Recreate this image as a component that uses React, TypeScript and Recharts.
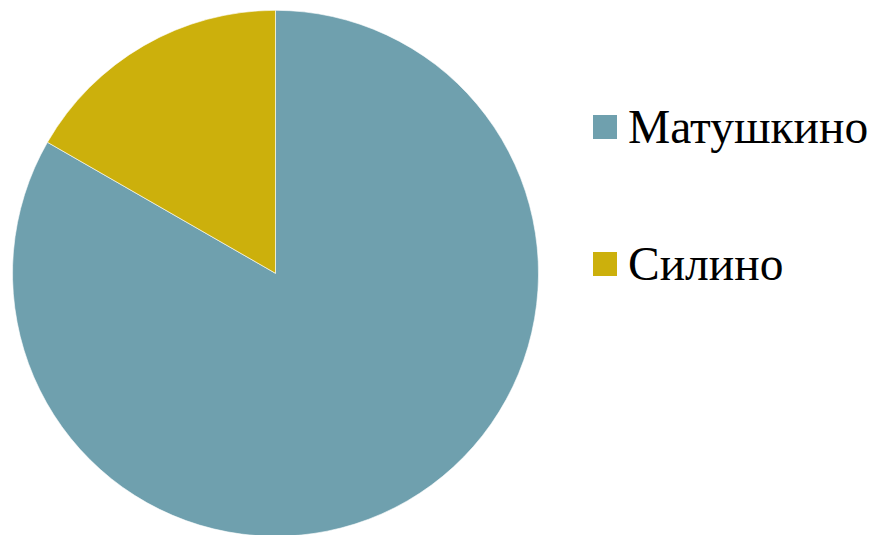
import React from 'react';
import { PieChart, Pie, Cell } from 'recharts';

// share of each village (≈300° vs ≈60°)
const NAMES = ['Матушкино', 'Силино'];
const VALUES = [83.3, 16.7];
const COLORS = ['#6FA0AE', '#CCB00C'];

const DATA = NAMES.map((name, i) => ({ name, value: VALUES[i] }));

const SideLegend = () => (
  <div style={{ position: 'absolute', left: 593, top: 102.5, width: 284 }}>
    {NAMES.map((name, i) => (
      <div
        key={name}
        style={{
          display: 'flex',
          alignItems: 'center',
          height: 48,
          marginBottom: i === 0 ? 89 : 0,
        }}
      >
        <span
          style={{
            width: 24,
            height: 24,
            background: COLORS[i],
            marginRight: 11,
            flex: 'none',
          }}
        />
        <span
          style={{
            fontFamily: 'Liberation Serif',
            fontSize: 47.5,
            lineHeight: '48px',
            color: '#000',
            whiteSpace: 'nowrap',
          }}
        >
          {name}
        </span>
      </div>
    ))}
  </div>
);

export default function App() {
  return (
    <div style={{ position: 'absolute', left: 0, top: 0, width: 877, height: 535, background: '#fff' }}>
      <PieChart width={877} height={535} margin={{ top: 0, right: 0, bottom: 0, left: 0 }}>
        <Pie
          data={DATA}
          dataKey="value"
          nameKey="name"
          cx={275.5}
          cy={273.3}
          outerRadius={263}
          startAngle={90}
          endAngle={-270}
          stroke="#ffffff"
          strokeWidth={0.6}
          isAnimationActive={false}
        >
          {DATA.map((d, i) => (
            <Cell key={d.name} fill={COLORS[i]} />
          ))}
        </Pie>
      </PieChart>
      <SideLegend />
    </div>
  );
}
